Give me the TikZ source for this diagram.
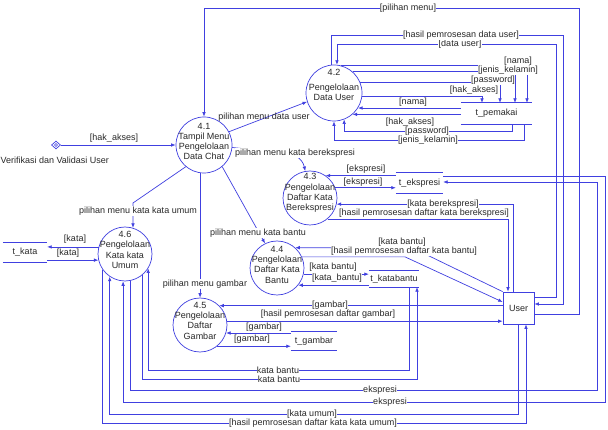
\documentclass[tikz,border=0pt]{standalone}
\usepackage{fontspec}
\setmainfont{Liberation Sans}
\usetikzlibrary{arrows.meta,shapes.geometric}
\definecolor{lc}{RGB}{64,64,224}
\definecolor{tc}{RGB}{40,40,40}
\begin{document}
\begin{tikzpicture}[x=1pt,y=1pt,
  proc/.style={circle,draw=lc,line width=0.7pt,inner sep=0pt,minimum size=54pt},
  ptext/.style={font=\fontsize{9}{10.3}\selectfont,align=center,text=tc,inner sep=0pt},
  store/.style={inner sep=0pt,font=\fontsize{9}{10.3}\selectfont,text=tc},
  sline/.style={draw=lc,line width=0.7pt},
  flow/.style={draw=lc,line width=0.7pt,-{Latex[length=4.5pt,width=3.6pt]}},
  lbl/.style={fill=white,inner sep=0.4pt,text=tc,font=\fontsize{9}{10}\selectfont},
  nlbl/.style={inner sep=0.4pt,text=tc,font=\fontsize{9}{10}\selectfont}]
\fill[white] (0,0) rectangle (608,-430);
\useasboundingbox (0,0) rectangle (608,-430);

% processes
\node[proc,minimum size=56pt,label={[ptext,yshift=3.5pt]center:{4.1\\Tampil Menu\\Pengelolaan\\Data Chat}}] (n41) at (204,-145) {};
\node[proc,minimum size=56pt,label={[ptext,yshift=8pt]center:{4.2\\[5pt]Pengelolaan\\Data User}}] (n42) at (334,-93) {};
\node[proc,label={[ptext,yshift=5pt]center:{4.3\\Pengelolaan\\Daftar Kata\\Berekspresi}}] (n43) at (310,-198) {};
\node[proc,label={[ptext,yshift=3.5pt]center:{4.4\\Pengelolaan\\Daftar Kata\\Bantu}}] (n44) at (277,-268) {};
\node[proc,label={[ptext,yshift=4.5pt]center:{4.5\\Pengelolaan\\Daftar\\Gambar}}] (n45) at (200,-325) {};
\node[proc,label={[ptext,yshift=4pt]center:{4.6\\Pengelolaan\\Kata kata\\Umum}}] (n46) at (125,-254) {};

% external entity
\node[draw=lc,line width=0.7pt,minimum width=31pt,minimum height=32pt,inner sep=0pt,text=tc,font=\fontsize{9}{10}\selectfont] (user) at (518.5,-308) {User};

% off-page reference
\node[diamond,draw=lc,line width=0.7pt,inner sep=0pt,minimum width=9pt,minimum height=8pt] (vv) at (56,-145) {};
\node[circle,draw=lc,line width=0.6pt,inner sep=0pt,minimum size=3pt] (vvdot) at (vv.center) {};
\node[nlbl,anchor=west] (vvt) at (0,-160) {Verifikasi dan Validasi User};

% data stores
\node[store,minimum width=71pt,minimum height=21pt] (tp) at (496.5,-113.5) {t\_pemakai};
\node[store,minimum width=47pt,minimum height=20pt] (te) at (419.5,-183) {t\_ekspresi};
\node[store,minimum width=50pt,minimum height=16pt] (tk) at (394,-279) {t\_katabantu};
\node[store,minimum width=46pt,minimum height=18pt] (tg) at (314,-341) {t\_gambar};
\node[store,minimum width=44pt,minimum height=19pt] (tkt) at (25,-252.5) {t\_kata};
\foreach \s in {tp,te,tk,tg,tkt}{
  \draw[sline] (\s.north west) -- (\s.north east) (\s.south west) -- (\s.south east);
}

% ---- flows ----
\draw[flow] (vv.east) -- (n41.west);
\node[lbl] at (114,-138) {[hak\_akses]};

\draw[flow] ([yshift=-6pt]user.east) -| (579,-8) -| (n41.north);
\node[lbl] at (408,-8) {[pilihan menu]};

\draw[flow] ([yshift=11pt]user.east) -| (556,-44) -| (n42.84);
\node[lbl] at (460,-44) {[data user]};

\draw[flow] (n42.96) |- (563,-35) |- ([yshift=4pt]user.east);
\node[lbl] at (461,-35) {[hasil pemrosesan data user]};

% 4.2 -> t_pemakai
\draw[flow] (n42.75) -| ([xshift=30.5pt]tp.north);
\node[lbl] at (518,-61) {[nama]};
\draw[flow] (n42.49) -| ([xshift=18.5pt]tp.north);
\node[lbl] at (508,-70) {[jenis\_kelamin]};
\draw[flow] (n42.23) -| ([xshift=3.5pt]tp.north);
\node[lbl] at (493,-80) {[password]};
\draw[flow] (n42.-6) -| ([xshift=-14.5pt]tp.north);
\node[lbl] at (474,-90) {[hak\_akses]};

% t_pemakai -> 4.2
\draw[flow] (n42.-32 -| tp.west) -- (n42.-32);
\node[lbl] at (413,-102) {[nama]};
\draw[flow] (n42.-49 -| tp.west) -- (n42.-49);
\node[lbl] at (410,-122) {[hak\_akses]};
\draw[flow] ([xshift=15.5pt]tp.south) |- (n42.-69 |- 0,-131) -- (n42.-69);
\node[lbl] at (427,-131) {[password]};
\draw[flow] ([xshift=27.5pt]tp.south) |- (n42.south |- 0,-140) -- (n42.south);
\node[lbl] at (428,-140) {[jenis\_kelamin]};

% 4.1 menus
\draw[flow] (n41.28) -- (n42.198);
\node[nlbl] at (264,-117) {pilihan menu data user};
\draw[flow] (n41.-5) .. controls (270,-152) and (300,-148) .. (n43.100);
\node[lbl] at (295,-153) {pilihan menu kata berekspresi};
\draw[flow] (n41.-50) -- (n44.116);
\node[lbl] at (258,-233) {pilihan menu kata bantu};
\draw[flow] (n41.-130) -- (n46.73 |- 0,-203) -- (n46.73);
\node[lbl] at (138,-211) {pilihan menu kata kata umum};
\draw[flow] (n41.-98) -- (n41.-98 |- n45.north);
\node[lbl] at (205,-284) {pilihan menu gambar};

% 4.3 <-> t_ekspresi
\draw[flow] (n43.55 -| te.west) -- (n43.55);
\node[lbl] at (366,-169) {[ekspresi]};
\draw[flow] (n43.22) -- (n43.22 -| te.west);
\node[lbl] at (363,-182) {[ekspresi]};

% User <-> 4.3
\draw[flow] ([xshift=-5.5pt]user.north) |- (n43.-13);
\node[lbl] at (443,-204) {[kata berekspresi]};
\draw[flow] (n43.-50) -| ([xshift=-10.5pt]user.north);
\node[lbl] at (424,-213) {[hasil pemrosesan daftar kata berekspresi]};

% User <-> 4.4
\draw[flow] (user.north west) -- (n44.48 -| 412,0) -- (n44.48);
\node[lbl] at (402,-242) {[kata bantu]};
\draw[flow] (n44.24) -- (n44.24 -| 405,0) -- ([yshift=6pt]user.west);
\node[lbl] at (404,-251) {[hasil pemrosesan daftar kata bantu]};

% 4.4 <-> t_katabantu
\draw[flow] (n44.-13) -- (n44.-13 -| tk.west);
\node[lbl] at (333,-267) {[kata bantu]};
\draw[flow] (n44.-39 -| tk.west) -- (n44.-39);
\node[lbl] at (337,-278) {[kata\_bantu]};

% User <-> 4.5
\draw[flow] (n45.45 -| user.west) -- (n45.45);
\node[lbl] at (330,-305) {[gambar]};
\draw[flow] (n45.8) -- (n45.8 -| user.west);
\node[lbl] at (328,-314) {[hasil pemrosesan daftar gambar]};

% 4.5 <-> t_gambar
\draw[flow] (n45.-17 -| tg.west) -- (n45.-17);
\node[lbl] at (264,-327) {[gambar]};
\draw[flow] (n45.-51) -- (n45.-51 -| tg.west);
\node[lbl] at (252,-339) {[gambar]};

% 4.6 <-> t_kata
\draw[flow] (n46.165) -- (n46.165 -| tkt.east);
\node[lbl] at (75,-239) {[kata]};
\draw[flow] (n46.193 -| tkt.east) -- (n46.193);
\node[lbl] at (68,-253) {[kata]};

% bottom loops to 4.6
\draw[flow] ([xshift=15pt]tk.south) |- (n46.-32 |- 0,-370) -- (n46.-32);
\node[lbl] at (278,-370) {kata bantu};
\draw[flow] (n46.-51) -- (n46.-51 |- 0,-379) -| ([xshift=23pt]tk.south);
\node[lbl] at (279,-379) {kata bantu};
\draw[flow] (n46.-79) -- (n46.-79 |- 0,-390) -| (597,-182) -- ([yshift=1pt]te.east);
\node[lbl] at (380,-390) {ekspresi};
\draw[flow] ([yshift=7pt]te.east) -| (605,-402) -| (n46.-94);
\node[lbl] at (390,-402) {ekspresi};
\draw[flow] ([xshift=-0.5pt]user.south) |- (n46.-124 |- 0,-414) -- (n46.-124);
\node[lbl] at (312,-414) {[kata umum]};
\draw[flow] (n46.-145) -- (n46.-145 |- 0,-423) -| ([xshift=7.5pt]user.south);
\node[lbl] at (313,-423) {[hasil pemrosesan daftar kata kata umum]};
\end{tikzpicture}
\end{document}
